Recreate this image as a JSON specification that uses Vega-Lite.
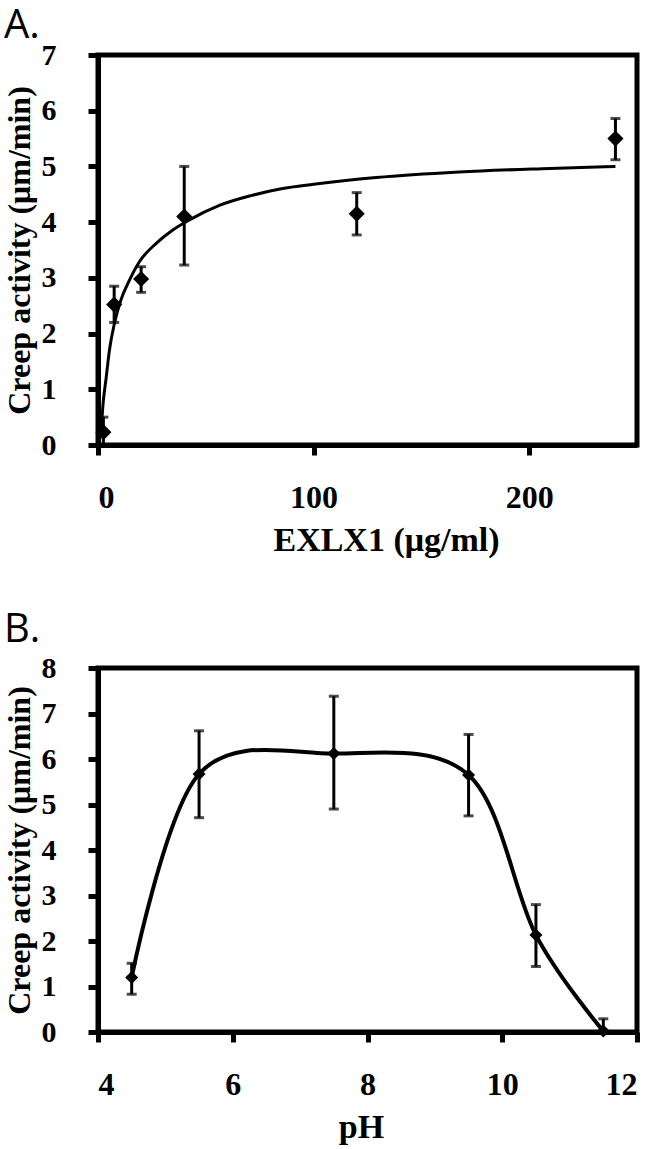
{
  "$schema": "https://vega.github.io/schema/vega-lite/v6.json",
  "padding": {"left": 0, "top": 3, "right": 0, "bottom": 0},
  "background": "white",
  "spacing": 47,
  "config": {
    "view": {"stroke": "black", "strokeWidth": 5},
    "axis": {
      "domainColor": "black", "domainWidth": 5, "tickColor": "black", "tickWidth": 5, "tickSize": 10,
      "grid": false, "labelFont": "Liberation Serif", "labelFontWeight": "bold", "labelColor": "black",
      "titleFont": "Liberation Serif", "titleFontWeight": "bold", "titleColor": "black", "format": "d"
    },
    "axisX": {"labelFontSize": 32, "labelPadding": 27, "titleFontSize": 34, "titlePadding": 10},
    "axisY": {"labelFontSize": 30, "labelPadding": 32, "titleFontSize": 32, "titlePadding": 5},
    "title": {"font": "Open Sans", "fontSize": 40, "fontWeight": "normal", "color": "black", "anchor": "start", "frame": "group", "dx": -94}
  },
  "datasets": {
    "curveA": [
      {"x": 1.2, "y": 0.2}, {"x": 1.5, "y": 0.32}, {"x": 2.5, "y": 0.8}, {"x": 3.8, "y": 1.21},
      {"x": 5.3, "y": 1.7}, {"x": 7.6, "y": 2.18}, {"x": 10.7, "y": 2.61}, {"x": 14.6, "y": 2.96},
      {"x": 19.2, "y": 3.29}, {"x": 27, "y": 3.62}, {"x": 34.7, "y": 3.86}, {"x": 42.4, "y": 4.04},
      {"x": 56.3, "y": 4.3}, {"x": 71.4, "y": 4.48}, {"x": 85, "y": 4.6}, {"x": 100, "y": 4.68}, {"x": 129, "y": 4.8},
      {"x": 167.5, "y": 4.9}, {"x": 206, "y": 4.96}, {"x": 240, "y": 5.0}
    ],
    "ptsA": [
      {"x": 2.5, "y": 0.23, "lo": 0, "hi": 0.5},
      {"x": 7.5, "y": 2.52, "lo": 2.2, "hi": 2.85},
      {"x": 20, "y": 2.98, "lo": 2.74, "hi": 3.2},
      {"x": 40, "y": 4.1, "lo": 3.23, "hi": 5.0},
      {"x": 120, "y": 4.15, "lo": 3.77, "hi": 4.53},
      {"x": 240, "y": 5.5, "lo": 5.12, "hi": 5.86}
    ],
    "ptsB": [
      {"x": 4.5, "y": 1.2, "lo": 0.83, "hi": 1.51},
      {"x": 5.5, "y": 5.67, "lo": 4.71, "hi": 6.62},
      {"x": 7.5, "y": 6.12, "lo": 4.9, "hi": 7.38},
      {"x": 9.5, "y": 5.65, "lo": 4.75, "hi": 6.54},
      {"x": 10.5, "y": 2.13, "lo": 1.44, "hi": 2.8},
      {"x": 11.5, "y": 0.02, "lo": 0, "hi": 0.29}
    ]
  },
  "vconcat": [
    {
      "title": {"text": "A.", "offset": -6},
      "width": 539, "height": 390,
      "layer": [
        {
          "data": {"name": "curveA"},
          "mark": {"type": "line", "color": "black", "strokeWidth": 3, "interpolate": "monotone"},
          "encoding": {
            "x": {"field": "x", "type": "quantitative", "title": "EXLX1 (μg/ml)", "scale": {"domain": [0, 250], "nice": false}, "axis": {"values": [0, 100, 200], "titleX": 288}},
            "y": {"field": "y", "type": "quantitative", "title": "Creep activity (μm/min)", "scale": {"domain": [0, 7], "nice": false}, "axis": {"values": [0, 1, 2, 3, 4, 5, 6, 7]}}
          }
        },
        {
          "data": {"name": "ptsA"},
          "mark": {"type": "errorbar", "color": "black", "thickness": 3, "size": 10, "ticks": true},
          "encoding": {
            "x": {"field": "x", "type": "quantitative", "title": "EXLX1 (μg/ml)"},
            "y": {"field": "lo", "type": "quantitative", "title": "Creep activity (μm/min)"},
            "y2": {"field": "hi"}
          }
        },
        {
          "data": {"name": "ptsA"},
          "mark": {"type": "point", "shape": "diamond", "filled": true, "color": "black", "size": 260, "opacity": 1},
          "encoding": {
            "x": {"field": "x", "type": "quantitative", "title": "EXLX1 (μg/ml)"},
            "y": {"field": "y", "type": "quantitative", "title": "Creep activity (μm/min)"}
          }
        }
      ]
    },
    {
      "title": {"text": "B.", "offset": 3},
      "width": 539, "height": 364,
      "layer": [
        {
          "data": {"name": "ptsB"},
          "mark": {"type": "line", "color": "black", "strokeWidth": 4, "interpolate": "cardinal"},
          "encoding": {
            "x": {"field": "x", "type": "quantitative", "title": "pH", "scale": {"domain": [4, 12], "nice": false}, "axis": {"values": [4, 6, 8, 10, 12], "titleX": 263}},
            "y": {"field": "y", "type": "quantitative", "title": "Creep activity (μm/min)", "scale": {"domain": [0, 8], "nice": false}, "axis": {"values": [0, 1, 2, 3, 4, 5, 6, 7, 8]}}
          }
        },
        {
          "data": {"name": "ptsB"},
          "mark": {"type": "errorbar", "color": "black", "thickness": 3, "size": 10, "ticks": true},
          "encoding": {
            "x": {"field": "x", "type": "quantitative", "title": "pH"},
            "y": {"field": "lo", "type": "quantitative", "title": "Creep activity (μm/min)"},
            "y2": {"field": "hi"}
          }
        },
        {
          "data": {"name": "ptsB"},
          "mark": {"type": "point", "shape": "diamond", "filled": true, "color": "black", "size": 170, "opacity": 1},
          "encoding": {
            "x": {"field": "x", "type": "quantitative", "title": "pH"},
            "y": {"field": "y", "type": "quantitative", "title": "Creep activity (μm/min)"}
          }
        }
      ]
    }
  ]
}
